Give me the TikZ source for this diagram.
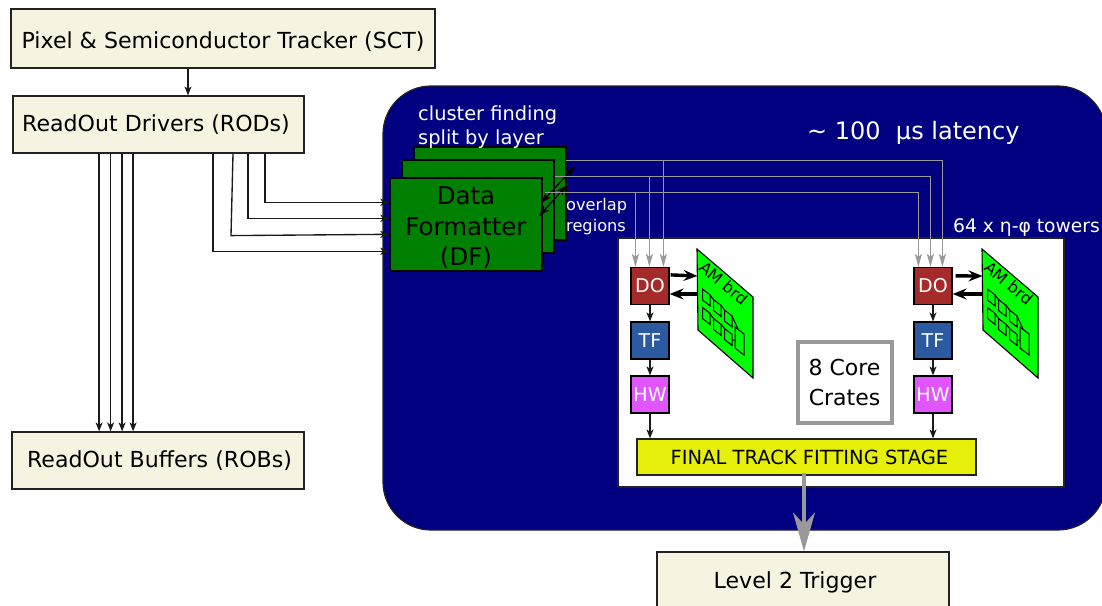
\documentclass[tikz,border=0pt]{standalone}
\usepackage{fontspec}
\setmainfont{DejaVu Sans}
\usetikzlibrary{arrows.meta,calc}
\definecolor{beige}{HTML}{F5F4E0}
\definecolor{navyb}{HTML}{000080}
\definecolor{dfgreen}{HTML}{008000}
\definecolor{amgreen}{HTML}{00FF00}
\definecolor{dored}{HTML}{A52A2A}
\definecolor{tfblue}{HTML}{2C5AA0}
\definecolor{hwpink}{HTML}{E055FF}
\definecolor{ftyellow}{HTML}{E5EF0A}
\definecolor{edge}{HTML}{222222}
\definecolor{greyline}{HTML}{999999}
\tikzset{
  plainbox/.style={draw=edge,line width=1.2pt,inner sep=0pt,align=center},
  beigebox/.style={plainbox,fill=beige,font=\fontsize{22.1}{26}\selectfont},
  dfbox/.style={plainbox,draw=black,line width=1.4pt,fill=dfgreen,minimum width=152pt,minimum height=93pt},
  chip/.style={plainbox,draw=black,minimum width=38pt,minimum height=37pt,text=white,font=\fontsize{19}{22}\selectfont},
  whitetext/.style={text=white,inner sep=0pt,align=left},
  thinarrow/.style={draw=black!90,line width=1.35pt,-{Stealth[length=9pt,width=7pt,inset=2.5pt]}},
  greyarrow/.style={draw=greyline,line width=1.5pt,-{Stealth[length=13pt,width=7pt,inset=3pt]}},
  thickarrow/.style={draw=black,line width=3.4pt,-{Stealth[length=14pt,width=11pt,inset=5pt]}},
  overlaparrow/.style={draw=black,line width=1.2pt,{Stealth[length=11pt,width=7pt,inset=3pt]}-{Stealth[length=11pt,width=7pt,inset=3pt]}},
  amchip/.style={draw=black,line width=1pt},
}
\newcommand{\amboard}[3]{% name, x shift, y shift
  \begin{scope}[shift={(#2,#3)}]
    \path[draw=black,line width=1.1pt,fill=amgreen] (697,249) -- (753,297) -- (753,378) -- (698,330) -- cycle;
    \node[rotate=-40,inner sep=0pt,font=\fontsize{16}{18}\selectfont] (#1) at (724,283) {AM brd};
    \foreach \a/\b in {702.5/289,713.5/299.5,724.5/310,702.5/307.5,713.5/318.5,724.5/328.5}{
      \draw[amchip] (\a,\b) -- ++(7.7,6) -- ++(0,11) -- ++(-7.7,-6) -- cycle;
    }
    \draw[amchip] (735,327) -- ++(9,7) -- ++(0,21) -- ++(-9,-7) -- cycle;
    \draw[amchip] (710,295) -- (713.5,299.5) (721,305) -- (724.5,310) (732,316) -- (738,329);
    \draw[amchip] (710,313.5) -- (713.5,318.5) (721,324) -- (724.5,328.5) (732,340) -- (735,340);
  \end{scope}
}
\begin{document}
\begin{tikzpicture}[x=1pt,y=-1pt]
\path[use as bounding box,clip] (0,0) rectangle (1102,605);
\fill[white] (0,0) rectangle (1102,605);

% outer blue area
\path[draw=edge,line width=1.2pt,fill=navyb,rounded corners=48pt] (383,86) rectangle (1106,530);
\node[plainbox,fill=white,draw=edge,minimum width=446pt,minimum height=249pt] (panel) at (841,362.5) {};

% left column
\node[beigebox,minimum width=424pt,minimum height=59pt] (pixel) at (223,38.5) {\rule{0pt}{23pt}Pixel \& Semiconductor Tracker (SCT)};
\node[beigebox,minimum width=291pt,minimum height=57pt] (rod) at (158.5,124.5) {ReadOut Drivers (RODs)\hspace{5pt}};
\node[beigebox,minimum width=292pt,minimum height=57pt] (rob) at (158,460.5) {\hspace{3pt}ReadOut Buffers (ROBs)};
\node[beigebox,minimum width=292pt,minimum height=60pt] (ltwo) at (803,582) {Level 2 Trigger\hspace{16pt}};

% data formatter stack
\node[dfbox] (dfc) at (490,193.5) {};
\node[dfbox] (dfb) at (478,206.5) {};
\node[dfbox,font=\fontsize{24.5}{30.5}\selectfont] (dfa) at (466,224.5) {\rule{0pt}{25pt}Data\\Formatter\\(DF)};

% labels on blue
\node[whitetext,anchor=west,font=\fontsize{19.4}{24}\selectfont] (lcluster) at (418,127) {cluster finding\\split by layer};
\node[whitetext,anchor=west,font=\fontsize{24}{28}\selectfont] (llat) at (807,133) {\textasciitilde{} 100\ \ µs latency};
\node[whitetext,anchor=west,font=\fontsize{16.2}{21}\selectfont] (lover) at (566,217) {overlap\\regions};
\node[whitetext,anchor=west,font=\fontsize{18.7}{21}\selectfont] (ltow) at (953,228) {64 x η-φ towers};

% chips
\node[chip,fill=dored] (doL) at (650,286) {DO};
\node[chip,fill=tfblue] (tfL) at (650,340.5) {TF};
\node[chip,fill=hwpink] (hwL) at (650,394.5) {HW};
\node[chip,fill=dored] (doR) at (933,286) {DO};
\node[chip,fill=tfblue] (tfR) at (933,340.5) {TF};
\node[chip,fill=hwpink] (hwR) at (933,394.5) {HW};
\node[plainbox,fill=ftyellow,minimum width=339pt,minimum height=36pt,font=\fontsize{19.5}{21}\selectfont] (final) at (806.5,457) {\hspace{6pt}FINAL TRACK FITTING STAGE};
\node[plainbox,draw=greyline,line width=4pt,fill=white,minimum width=94pt,minimum height=81pt,font=\fontsize{22}{30}\selectfont] (crates) at (844.5,382.5) {8 Core\\Crates};

\amboard{amL}{0}{0}
\amboard{amR}{285}{0}

% pixel to ROD
\draw[thinarrow] ([xshift=-35pt]pixel.south) -- ([xshift=29.5pt]rod.north);
% ROD to ROB
\foreach \d in {86.7,98.2,109.7,120.7}{
  \draw[thinarrow] ([xshift=\d pt]rod.south west) -- ([xshift=\d pt+1pt]rob.north west);
}
% ROD to DF
\draw[thinarrow] ([xshift=252.6pt]rod.south west) |- ([yshift=-25pt]dfa.north west);
\draw[thinarrow] ([xshift=235.6pt]rod.south west) |- ([yshift=-41pt]dfa.north west);
\coordinate (rodbend) at ($(rod.south west)+(218.6,82)$);
\draw[thinarrow] ([xshift=220.6pt]rod.south west) -- (rodbend) -- ([yshift=-57pt]dfa.north west);
\draw[thinarrow] ([xshift=200.6pt]rod.south west) |- ([yshift=-74pt]dfa.north west);

% overlap arrows
\coordinate (ovaS) at (541,203);
\coordinate (ovaE) at (575,166);
\coordinate (ovbS) at (539,216);
\coordinate (ovbE) at (567,185);
\draw[overlaparrow] (ovaS) -- (ovaE);
\draw[overlaparrow] (ovbS) -- (ovbE);

% DF to DO
\draw[greyarrow] ([xshift=-1pt,yshift=-14pt]dfc.north east) -| ([xshift=33pt]doL.north west);
\draw[greyarrow] ([xshift=-1pt,yshift=-14pt]dfc.north east) -| ([xshift=29pt]doR.north west);
\draw[greyarrow] ([yshift=-17pt]dfb.north east) -| ([xshift=19pt]doL.north west);
\draw[greyarrow] ([yshift=-17pt]dfb.north east) -| ([xshift=17pt]doR.north west);
\draw[greyarrow] ([xshift=2pt,yshift=-15pt]dfa.north east) -| ([xshift=5pt]doL.north west);
\draw[greyarrow] ([xshift=2pt,yshift=-15pt]dfa.north east) -| ([xshift=5pt]doR.north west);

% chip chain
\draw[thinarrow] (doL) -- (tfL);
\draw[thinarrow] (tfL) -- (hwL);
\draw[thinarrow] (hwL.south) -- (final.north -| hwL.south);
\draw[thinarrow] (doR) -- (tfR);
\draw[thinarrow] (tfR) -- (hwR);
\draw[thinarrow] (hwR.south) -- (final.north -| hwR.south);

% DO <-> AM
\coordinate (amLa) at (697.5,276);
\coordinate (amLb) at (697.5,294);
\coordinate (amRa) at (982.5,276);
\coordinate (amRb) at (982.5,294);
\draw[thickarrow] ([xshift=1pt,yshift=-8pt]doL.north east) -- (amLa);
\draw[thickarrow] (amLb) -- ([yshift=-8pt]doL.east);
\draw[thickarrow] ([xshift=3pt,yshift=-9pt]doR.north east) -- (amRa);
\draw[thickarrow] (amRb) -- ([yshift=-8pt]doR.east);

% to level 2
\coordinate (fout) at ($(final.south)+(-2.5,-3)$);
\draw[draw=greyline,fill=greyline,line width=4pt,-{Stealth[length=39pt,width=22pt,inset=12pt]}] (fout) -- (ltwo.north -| fout);
\end{tikzpicture}
\end{document}
